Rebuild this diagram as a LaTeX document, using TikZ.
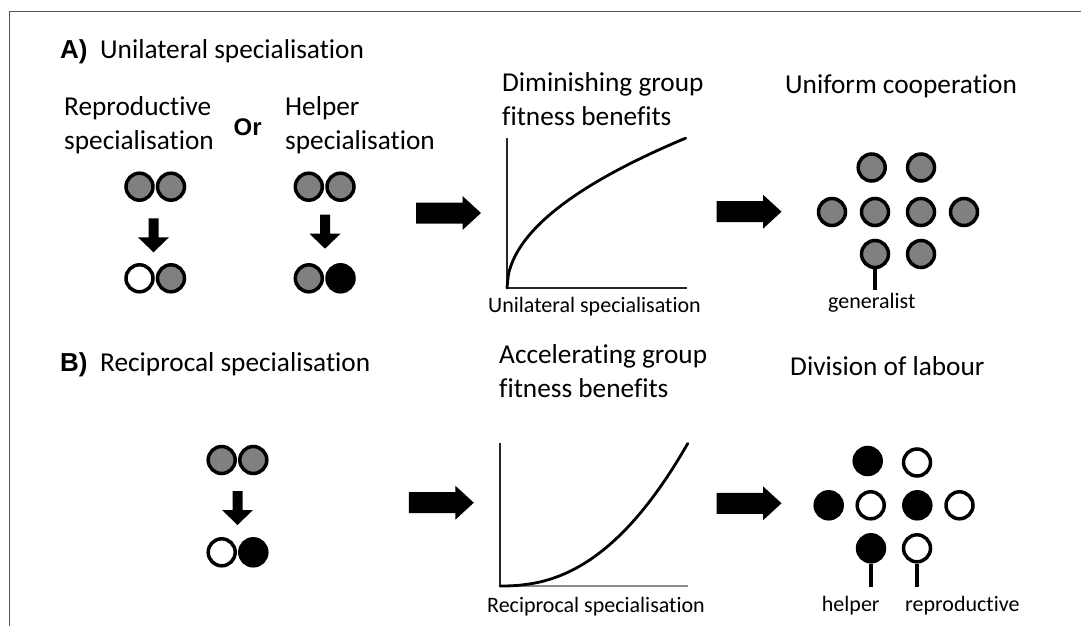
\documentclass[tikz,border=0pt]{standalone}
\usepackage{fontspec}
\setmainfont{Carlito}[Ligatures=NoCommon]
\newfontfamily\arialfont{Liberation Sans}
\definecolor{cellgray}{HTML}{808080}
\definecolor{framegray}{HTML}{555555}
\tikzset{
  title/.style={font=\fontsize{27.3}{34}\selectfont, anchor=base west, inner sep=0pt},
  letter/.style={font=\arialfont\bfseries\fontsize{26}{30}\selectfont, anchor=base west, inner sep=0pt},
  axlabel/.style={font=\fontsize{22}{26}\selectfont, anchor=base west, inner sep=0pt},
  cell/.style={circle, draw=black, line width=3.5pt, minimum size=27pt, inner sep=0pt},
  gcell/.style={cell, fill=cellgray},
  wcell/.style={cell, fill=white},
  bcell/.style={cell, fill=black},
  axis/.style={line width=1.3pt, draw=black!85},
  curve/.style={line width=2.8pt, line cap=round},
  stick/.style={line width=3.5pt},
  frameline/.style={line width=1.5pt, draw=framegray},
  rarrow/.pic={\fill[black] (-32.5,-10.5) -- (14,-10.5) -- (14,-17) -- (32.5,0) -- (14,17) -- (14,10.5) -- (-32.5,10.5) -- cycle;},
  darrow/.pic={\fill[black] (-5,-17) -- (5,-17) -- (5,2) -- (15.5,2) -- (0,17) -- (-15.5,2) -- (-5,2) -- cycle;}
}
\begin{document}
\begin{tikzpicture}[x=1pt,y=-1pt]
\useasboundingbox (0,0) rectangle (1081,626);
\coordinate (fb) at (9.7,626);
\coordinate (fc) at (9.7,11.7);
\coordinate (fr) at (1081,11.7);
\draw[frameline] (fb) -- (fc) -- (fr);

% ---------- Panel A ----------
\node[letter] (lA) at (60,58.3) {A)};
\node[title] (tA) at (100,58.3) {Unilateral specialisation};

\node[title] (rep1) at (64,115) {Reproductive};
\node[title] (rep2) at (64,149) {specialisation};
\node[font=\arialfont\bfseries\fontsize{24}{28}\selectfont, anchor=base west, inner sep=0pt] (or) at (233.5,135) {Or};
\node[title] (hel1) at (285,115) {Helper};
\node[title] (hel2) at (285,149) {specialisation};

% pair 1
\node[gcell] (a1) at (139.5,186.7) {};
\node[gcell] (a2) at (171,186.7) {};
\pic at (153.5,235.3) {darrow};
\node[wcell] (a3) at (139.5,278.3) {};
\node[gcell] (a4) at (171,278.3) {};
% pair 2
\node[gcell] (b1) at (308.8,186.7) {};
\node[gcell] (b2) at (340.5,186.7) {};
\pic at (325,231.7) {darrow};
\node[gcell] (b3) at (308.8,278.3) {};
\node[bcell] (b4) at (340.5,278.3) {};

\pic at (448.5,213) {rarrow};

% graph A
\node[title] (dim1) at (502,91) {Diminishing group};
\node[title] (dim2) at (502,125) {fitness benefits};
\coordinate (gAo) at (507,288);
\coordinate (gAy) at (507,138);
\coordinate (gAx) at (687,288);
\draw[axis] (gAy) -- (gAo) -- (gAx);
\draw[curve] plot[domain=0:1, samples=120, smooth] ({507+179*\x},{288-150*sqrt(\x)});
\node[axlabel] (xA) at (488,312) {Unilateral specialisation};

\pic at (749,211.7) {rarrow};

% uniform cooperation
\node[title] (uc) at (785,93.3) {Uniform cooperation};
\node[gcell] (u1) at (871.7,167.5) {};
\node[gcell] (u2) at (921,167.5) {};
\node[gcell] (u3) at (832,212) {};
\node[gcell] (u4) at (875,212) {};
\node[gcell] (u5) at (921,212) {};
\node[gcell] (u6) at (964,212) {};
\node[gcell] (u7) at (875,254) {};
\node[gcell] (u8) at (921,254) {};
\coordinate (genend) at (875,290);
\draw[stick] (u7.south) -- (genend);
\node[axlabel] (gen) at (828,308) {generalist};

% ---------- Panel B ----------
\node[letter] (lB) at (60,371.7) {B)};
\node[title] (tB) at (100,371.7) {Reciprocal specialisation};

\node[gcell] (c1) at (221.7,460) {};
\node[gcell] (c2) at (253.3,460) {};
\pic at (237.5,508) {darrow};
\node[wcell] (c3) at (221.7,552.3) {};
\node[bcell] (c4) at (253.3,552.3) {};

\pic at (441.3,502.7) {rarrow};

% graph B
\node[title] (acc1) at (499,363.3) {Accelerating group};
\node[title] (acc2) at (499,397.3) {fitness benefits};
\coordinate (gBo) at (500,586);
\coordinate (gBy) at (500,443);
\coordinate (gBx) at (688,586);
\draw[axis] (gBy) -- (gBo);
\draw[line width=1.3pt, draw=black!45] (gBo) -- (gBx);
\draw[curve] plot[domain=0:1, samples=120, smooth] ({500+188*\x},{586-143*(\x)^2.3});
\node[axlabel] (xB) at (487,612) {Reciprocal specialisation};

\pic at (749,503.3) {rarrow};

% division of labour
\node[title] (dl) at (790,375) {Division of labour};
\node[bcell] (d1) at (867.7,461) {};
\node[wcell] (d2) at (917,462.5) {};
\node[bcell] (d3) at (828.7,505.3) {};
\node[wcell] (d4) at (870.7,505.3) {};
\node[bcell] (d5) at (917.3,505.3) {};
\node[wcell] (d6) at (959.5,505.3) {};
\node[bcell] (d7) at (871,548.3) {};
\node[wcell] (d8) at (917,548.3) {};
\coordinate (helend) at (871,586.7);
\coordinate (repend) at (917,586.7);
\draw[stick] (d7.south) -- (helend);
\draw[stick] (d8.south) -- (repend);
\node[axlabel] (hlp) at (821.7,611) {helper};
\node[axlabel] (rpr) at (905,611) {reproductive};
\end{tikzpicture}
\end{document}
